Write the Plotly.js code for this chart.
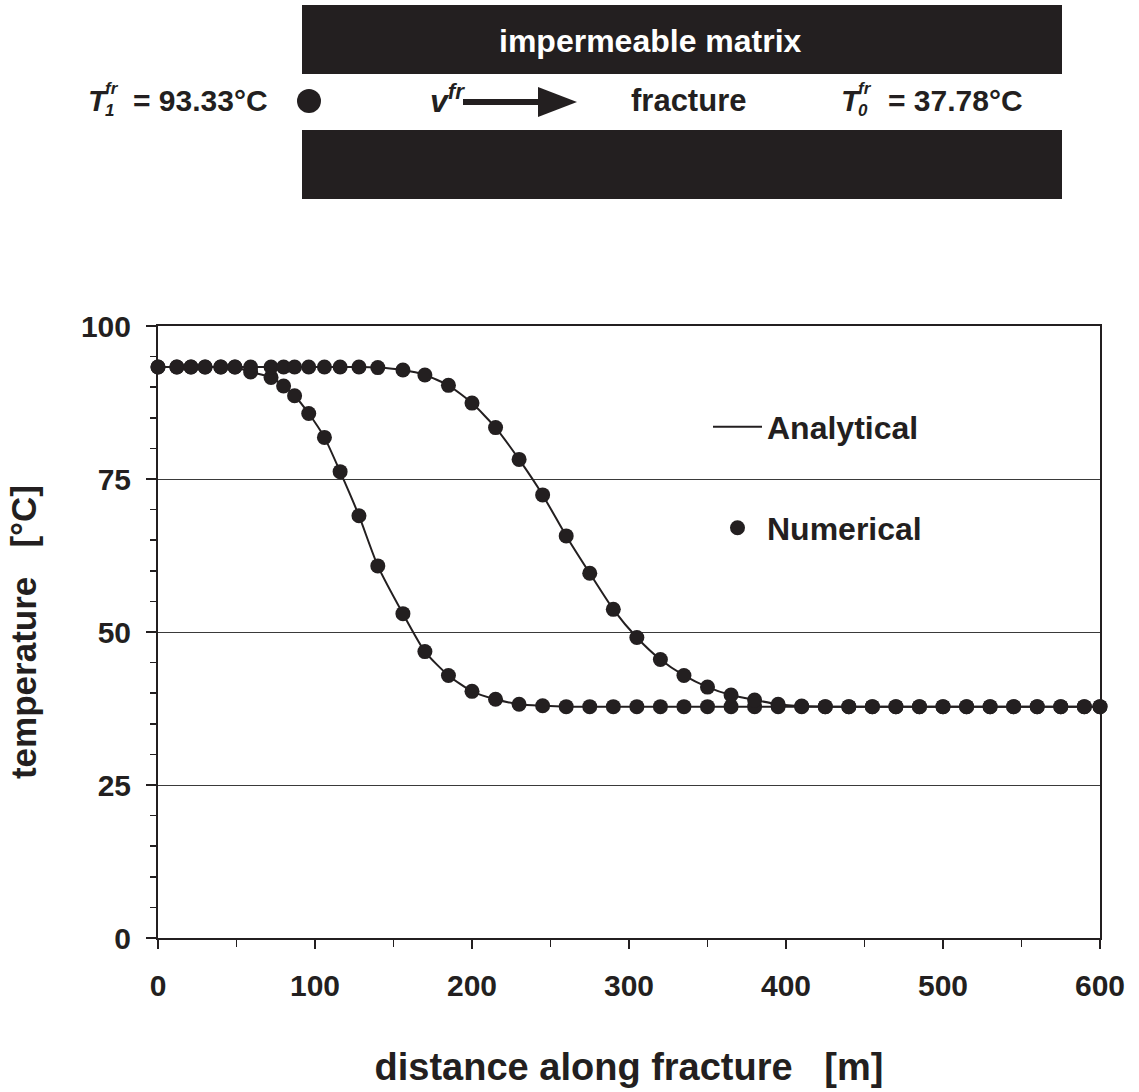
<!DOCTYPE html>
<html>
<head>
<meta charset="utf-8">
<script src="https://cdn.plot.ly/plotly-3.0.1.min.js"></script>
<style>html,body{margin:0;padding:0;background:#fff;}#chart{width:1139px;height:1092px;}</style>
</head>
<body>
<div id="chart"></div>
<script>
// ---------- data ----------
const distance = [0,12,21,30,40,49,59,72,80,87,96,106,116,128,140,156,170,185,200,215,
                  230,245,260,275,290,305,320,335,350,365,380,395,410,425,440,455,470,485,500,515,
                  530,545,560,575,590,600];
const tempEarly = [93.3,93.3,93.3,93.3,93.3,93.3,92.5,91.6,90.2,88.6,85.7,81.8,76.2,69.0,60.8,53.0,46.8,42.9,40.3,39.0,
                   38.2,37.95,37.8,37.8,37.8,37.8,37.8,37.8,37.8,37.8,37.8,37.8,37.8,37.8,37.8,37.8,37.8,37.8,37.8,37.8,
                   37.8,37.8,37.8,37.8,37.8,37.8];
const tempLate = [93.3,93.3,93.3,93.3,93.3,93.3,93.3,93.3,93.3,93.3,93.3,93.3,93.3,93.3,93.2,92.8,92.0,90.3,87.4,83.4,
                  78.2,72.4,65.7,59.6,53.7,49.1,45.5,42.9,41.0,39.7,38.9,38.2,37.9,37.8,37.8,37.8,37.8,37.8,37.8,37.8,
                  37.8,37.8,37.8,37.8,37.8,37.8];
const xTickVals = [0,100,200,300,400,500,600];
const xTickText = ['0','100','200','300','400','500','600'];
const yTickVals = [0,25,50,75,100];
const yTickText = ['0','25','50','75','100'];
const seriesNames = ['Analytical','Numerical'];

// ---------- styling ----------
const INK = '#231f20';
const FONT = 'Liberation Sans, Arial, Helvetica, sans-serif';
// plot area in pixels (for the schematic above the chart)
const L = 158, R = 1100, B = 938, T = 326;
const px = p => (p - L) / (R - L);
const py = p => (B - p) / (B - T);

const traces = [
  {x: distance, y: tempEarly, mode: 'lines', line: {color: INK, width: 2, shape: 'spline', smoothing: 0.6},
   name: seriesNames[0], legend: 'legend', showlegend: true, hoverinfo: 'skip'},
  {x: distance, y: tempLate, mode: 'lines', line: {color: INK, width: 2, shape: 'spline', smoothing: 0.6},
   name: seriesNames[0], legend: 'legend', showlegend: false, hoverinfo: 'skip'},
  {x: distance, y: tempEarly, mode: 'markers', marker: {color: INK, size: 15},
   name: seriesNames[1], legend: 'legend2', showlegend: true, cliponaxis: false},
  {x: distance, y: tempLate, mode: 'markers', marker: {color: INK, size: 15},
   name: seriesNames[1], legend: 'legend2', showlegend: false, cliponaxis: false}
];

const boldFont = (size, italic) => ({family: FONT, size: size, color: INK, weight: 'bold', style: italic ? 'italic' : 'normal'});

const annotations = [
  {text: 'impermeable matrix', x: px(650), y: py(41), font: {family: FONT, size: 32, color: '#ffffff', weight: 'bold'}},
  {text: 'T', x: px(86), y: py(100), xanchor: 'left', font: boldFont(30, true)},
  {text: 'fr<br>1', x: px(103), y: py(99), xanchor: 'left', align: 'left', font: boldFont(17, true)},
  {text: '= 93.33°C', x: px(131), y: py(100), xanchor: 'left', font: boldFont(30, false)},
  {text: '<i>v</i><sup><i>fr</i></sup>', x: px(428), y: py(99), xanchor: 'left', font: boldFont(32, false)},
  {text: 'fracture', x: px(629), y: py(101), xanchor: 'left', font: boldFont(31, false)},
  {text: 'T', x: px(839), y: py(100), xanchor: 'left', font: boldFont(30, true)},
  {text: 'fr<br>0', x: px(856), y: py(99), xanchor: 'left', align: 'left', font: boldFont(17, true)},
  {text: '= 37.78°C', x: px(886), y: py(100), xanchor: 'left', font: boldFont(30, false)}
].map(a => Object.assign({xref: 'paper', yref: 'paper', showarrow: false, xanchor: 'center', yanchor: 'middle'}, a));

const shapes = [
  {type: 'rect', x0: px(302), x1: px(1062), y0: py(74), y1: py(5), fillcolor: INK, line: {width: 0}},
  {type: 'rect', x0: px(302), x1: px(1062), y0: py(199), y1: py(130), fillcolor: INK, line: {width: 0}},
  {type: 'circle', x0: px(297), x1: px(321), y0: py(113), y1: py(89), fillcolor: INK, line: {width: 0}},
  {type: 'line', x0: px(463), x1: px(545), y0: py(102), y1: py(102), line: {color: INK, width: 6}},
  {type: 'path', path: `M ${px(538)},${py(87)} L ${px(577)},${py(102)} L ${px(538)},${py(117)} Z`,
   fillcolor: INK, line: {width: 0}}
].map(s => Object.assign({xref: 'paper', yref: 'paper', layer: 'above'}, s));

const layout = {
  width: 1139, height: 1092,
  margin: {l: L, r: 1139 - R, t: T, b: 1092 - B, pad: 0},
  paper_bgcolor: '#ffffff', plot_bgcolor: '#ffffff',
  font: {family: FONT, color: INK},
  showlegend: true,
  xaxis: {
    range: [0, 600], tickmode: 'array', tickvals: xTickVals, ticktext: xTickText,
    ticks: 'outside', ticklen: 9, tickwidth: 1.5, tickcolor: INK,
    minor: {dtick: 50, tick0: 0, ticks: 'outside', ticklen: 7, tickwidth: 1.5, tickcolor: INK, showgrid: false},
    showline: true, linewidth: 2, linecolor: INK, mirror: true,
    showgrid: false, zeroline: false, automargin: false,
    tickfont: {family: FONT, size: 30, color: INK, weight: 'bold'},
    ticklabelstandoff: 11,
    title: {text: 'distance along fracture\u00a0\u00a0\u00a0[m]', standoff: 52,
            font: {family: FONT, size: 38, color: INK, weight: 'bold'}}
  },
  xaxis2: {
    overlaying: 'x', anchor: 'y', side: 'bottom', range: [0, 600],
    tickmode: 'array', tickvals: xTickVals, ticks: 'inside', ticklen: 10, tickwidth: 1.5, tickcolor: INK,
    showticklabels: false, showline: false, showgrid: false, zeroline: false
  },
  yaxis: {
    range: [0, 100], tickmode: 'array', tickvals: yTickVals, ticktext: yTickText,
    ticks: 'outside', ticklen: 10, tickwidth: 1.5, tickcolor: INK,
    minor: {dtick: 5, tick0: 0, ticks: 'outside', ticklen: 6, tickwidth: 1.5, tickcolor: INK, showgrid: false},
    showline: true, linewidth: 2, linecolor: INK, mirror: true,
    showgrid: true, gridcolor: '#3a3a3a', gridwidth: 1, zeroline: false, automargin: false,
    tickfont: {family: FONT, size: 30, color: INK, weight: 'bold'},
    ticklabelstandoff: 9,
    title: {text: '\u00a0\u00a0\u00a0temperature\u00a0\u00a0\u00a0[°C]', standoff: 34,
            font: {family: FONT, size: 35, color: INK, weight: 'bold'}}
  },
  legend: {x: px(708), xanchor: 'left', y: py(427), yanchor: 'middle', itemwidth: 49,
           bgcolor: 'rgba(0,0,0,0)', borderwidth: 0,
           font: {family: FONT, size: 32, color: INK, weight: 'bold'}},
  legend2: {x: px(708), xanchor: 'left', y: py(528), yanchor: 'middle', itemwidth: 49,
            bgcolor: 'rgba(0,0,0,0)', borderwidth: 0,
            font: {family: FONT, size: 32, color: INK, weight: 'bold'}},
  annotations: annotations,
  shapes: shapes
};

Plotly.newPlot('chart', traces, layout, {displayModeBar: false, staticPlot: true});
</script>
</body>
</html>
